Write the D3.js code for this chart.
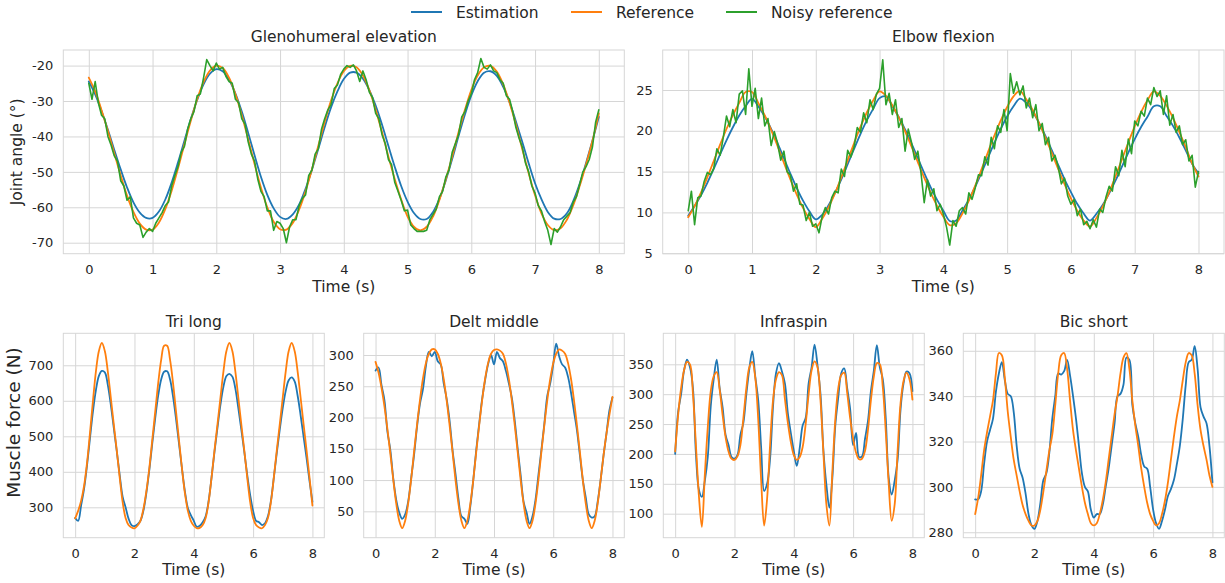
<!DOCTYPE html>
<html>
<head>
<meta charset="utf-8">
<title>Joint angles and muscle forces</title>
<script src="https://cdn.jsdelivr.net/npm/d3@7"></script>
<style>
  body { margin: 0; background: #fff; font-family: "DejaVu Sans", sans-serif; }
</style>
</head>
<body>
<div id="chart"></div>
<script>
var width = 1225;
var height = 583;

// ----- Data -----

// sample times (s)
var time = [0,0.1,0.2,0.3,0.4,0.5,0.6,0.7,0.8,0.9,
  1,1.1,1.2,1.3,1.4,1.5,1.6,1.7,1.8,1.9,
  2,2.1,2.2,2.3,2.4,2.5,2.6,2.7,2.8,2.9,
  3,3.1,3.2,3.3,3.4,3.5,3.6,3.7,3.8,3.9,
  4,4.1,4.2,4.3,4.4,4.5,4.6,4.7,4.8,4.9,
  5,5.1,5.2,5.3,5.4,5.5,5.6,5.7,5.8,5.9,
  6,6.1,6.2,6.3,6.4,6.5,6.6,6.7,6.8,6.9,
  7,7.1,7.2,7.3,7.4,7.5,7.6,7.7,7.8,7.9,
  8];

var timeFine = [0,0.05,0.1,0.15,0.2,0.25,0.3,0.35,0.4,0.45,
  0.5,0.55,0.6,0.65,0.7,0.75,0.8,0.85,0.9,0.95,
  1,1.05,1.1,1.15,1.2,1.25,1.3,1.35,1.4,1.45,
  1.5,1.55,1.6,1.65,1.7,1.75,1.8,1.85,1.9,1.95,
  2,2.05,2.1,2.15,2.2,2.25,2.3,2.35,2.4,2.45,
  2.5,2.55,2.6,2.65,2.7,2.75,2.8,2.85,2.9,2.95,
  3,3.05,3.1,3.15,3.2,3.25,3.3,3.35,3.4,3.45,
  3.5,3.55,3.6,3.65,3.7,3.75,3.8,3.85,3.9,3.95,
  4,4.05,4.1,4.15,4.2,4.25,4.3,4.35,4.4,4.45,
  4.5,4.55,4.6,4.65,4.7,4.75,4.8,4.85,4.9,4.95,
  5,5.05,5.1,5.15,5.2,5.25,5.3,5.35,5.4,5.45,
  5.5,5.55,5.6,5.65,5.7,5.75,5.8,5.85,5.9,5.95,
  6,6.05,6.1,6.15,6.2,6.25,6.3,6.35,6.4,6.45,
  6.5,6.55,6.6,6.65,6.7,6.75,6.8,6.85,6.9,6.95,
  7,7.05,7.1,7.15,7.2,7.25,7.3,7.35,7.4,7.45,
  7.5,7.55,7.6,7.65,7.7,7.75,7.8,7.85,7.9,7.95,
  8];

var seriesNames = ['Estimation', 'Reference', 'Noisy reference'];

// Glenohumeral elevation (deg)
var gleEst = [-24.5,-28.1,-32.8,-38.1,-43.8,-49.3,-54.4,-58.6,-61.5,-63.0,
  -63.0,-61.2,-57.8,-53.0,-47.3,-41.2,-35.1,-29.7,-25.3,-22.3,
  -21.0,-21.6,-24.0,-27.9,-33.0,-39.0,-45.3,-51.4,-56.5,-60.3,
  -62.7,-63.3,-62.0,-59.2,-54.8,-49.4,-43.5,-37.4,-31.8,-27.3,
  -23.8,-22.0,-22.0,-23.7,-26.9,-31.3,-36.7,-42.7,-48.6,-54.0,
  -58.4,-61.6,-63.3,-63.3,-61.3,-57.6,-52.4,-46.4,-39.9,-33.8,
  -28.4,-24.4,-22.0,-21.6,-22.9,-26.0,-30.3,-35.8,-41.6,-47.6,
  -53.2,-57.7,-61.3,-63.2,-63.3,-61.7,-58.2,-53.4,-47.5,-41.2,
  -34.5];
var gleRef = [-23.4,-27.3,-32.6,-38.5,-44.8,-51.0,-56.7,-61.3,-64.6,-66.3,
  -66.3,-64.3,-60.5,-55.3,-49.0,-42.2,-35.6,-29.5,-24.7,-21.4,
  -20.05,-20.7,-23.4,-28.1,-34.0,-40.8,-47.8,-54.4,-60.0,-64.1,
  -66.2,-66.3,-64.4,-60.6,-55.5,-49.3,-42.6,-35.9,-29.9,-25.0,
  -21.6,-20.1,-20.5,-22.8,-26.9,-32.5,-38.8,-45.7,-52.1,-57.8,
  -62.6,-65.5,-66.5,-65.5,-62.6,-57.9,-52.1,-45.7,-38.8,-32.5,
  -26.9,-22.8,-20.5,-20.1,-21.7,-25.3,-30.5,-36.7,-43.6,-50.4,
  -56.6,-61.7,-65.0,-66.45,-65.9,-63.5,-59.4,-54.0,-47.9,-41.3,
  -33.5];
var gleNoisy = [-25.0,-29.5,-24.5,-30.5,-34.0,-35.0,-40.0,-42.5,-45.5,-47.0,
  -52.5,-54.0,-58.0,-57.0,-63.0,-64.5,-65.0,-68.5,-67.0,-66.0,
  -66.8,-64.5,-63.0,-61.5,-59.5,-58.5,-54.0,-51.0,-48.5,-44.5,
  -42.8,-38.0,-35.0,-33.0,-28.5,-28.0,-23.5,-18.3,-20.0,-21.5,
  -19.3,-21.0,-20.5,-23.0,-24.5,-25.0,-29.5,-30.5,-35.0,-36.5,
  -41.5,-45.0,-47.0,-52.0,-55.5,-57.0,-61.0,-61.0,-66.5,-64.0,
  -64.5,-66.0,-70.0,-65.5,-63.5,-63.5,-59.5,-57.5,-56.5,-51.0,
  -49.5,-45.0,-43.5,-38.0,-35.0,-32.5,-31.0,-26.5,-25.5,-22.5,
  -21.0,-20.0,-20.5,-19.8,-21.5,-24.5,-21.5,-24.0,-27.5,-29.0,
  -33.5,-35.0,-39.5,-42.0,-46.5,-48.0,-53.0,-55.5,-58.0,-61.0,
  -60.8,-65.0,-66.0,-66.8,-66.8,-66.8,-66.5,-63.5,-62.0,-60.5,
  -57.0,-55.5,-51.5,-49.5,-44.5,-42.0,-39.5,-34.5,-33.0,-30.0,
  -28.0,-24.0,-22.0,-18.0,-20.5,-21.0,-19.8,-21.5,-22.0,-24.0,
  -25.0,-28.5,-29.5,-33.0,-37.5,-40.5,-43.0,-47.5,-50.0,-54.0,
  -56.0,-59.5,-61.0,-64.0,-66.5,-70.5,-66.0,-67.0,-65.5,-63.5,
  -62.5,-61.5,-58.5,-57.0,-53.5,-50.0,-48.5,-46.5,-43.0,-36.0,
  -32.5];

// Elbow flexion (deg)
var elbEst = [9.6,10.79,12.1,13.63,15.32,17.1,18.83,20.43,21.87,23.04,
  23.9,22.99,21.75,20.23,18.49,16.64,14.78,13.01,11.44,10.13,
  9.15,9.7,10.87,12.37,14.05,15.9,17.78,19.6,21.27,22.69,
  24.0,24.2,23.0,21.71,20.16,18.46,16.64,14.83,13.11,11.56,
  10.21,8.95,9.0,10.24,11.57,13.15,14.9,16.73,18.53,20.24,
  21.76,23.0,23.95,23.44,22.35,20.96,19.37,17.62,15.83,14.06,
  12.49,11.02,9.86,9.0,9.83,10.95,12.34,13.92,15.61,17.32,
  18.98,20.46,21.73,23.0,23.0,21.8,20.6,19.18,17.61,15.95,
  14.8];
var elbRef = [9.4,10.77,12.43,14.31,16.3,18.31,20.22,21.92,23.42,24.75,
  24.75,23.39,21.88,20.1,18.14,16.08,14.08,12.22,10.55,9.19,
  8.2,9.22,10.62,12.33,14.3,16.38,18.48,20.48,22.24,23.72,
  24.83,24.29,23.12,21.65,19.93,18.1,16.16,14.25,12.45,10.82,
  9.48,8.44,8.66,9.88,11.45,13.29,15.3,17.38,19.42,21.27,
  22.92,24.22,24.9,23.85,22.55,20.98,19.17,17.29,15.34,13.45,
  11.73,10.22,9.0,8.28,9.33,10.74,12.47,14.43,16.5,18.57,
  20.55,22.3,23.74,24.83,24.28,23.08,21.59,19.84,17.98,16.01,
  14.4];
var elbNoisy = [10.2,12.6,8.5,11.8,12.0,13.8,14.9,14.6,15.4,17.8,
  17.0,19.2,21.8,20.5,22.6,21.0,24.5,24.9,22.0,27.6,
  23.0,25.2,21.5,24.0,20.6,21.5,18.2,19.9,18.5,16.4,
  17.5,15.0,14.6,12.6,13.5,11.0,10.9,9.0,10.0,8.3,
  8.6,7.5,9.5,10.6,9.8,11.8,12.6,12.4,15.3,14.4,
  17.6,16.8,18.0,20.4,19.8,22.2,21.0,23.8,22.6,24.5,
  25.2,28.7,23.2,24.6,22.0,23.8,20.4,21.5,17.5,20.2,
  18.6,16.5,17.5,14.8,11.2,14.0,12.0,12.9,10.2,11.0,
  9.8,8.2,6.0,9.0,8.3,10.2,10.6,9.8,12.4,11.6,
  13.0,14.6,14.5,16.8,15.8,19.2,17.8,20.6,19.8,22.6,
  20.0,27.0,24.6,26.0,24.4,25.5,22.8,24.0,21.6,23.2,
  20.0,20.9,18.3,19.2,16.3,17.0,15.6,13.5,14.2,12.0,
  11.0,11.6,9.6,10.4,8.5,8.9,8.0,9.1,8.2,10.4,
  10.0,11.9,13.2,12.6,15.6,14.5,17.6,15.6,19.0,17.2,
  21.2,20.6,22.4,21.8,24.0,23.2,25.3,24.2,24.9,22.0,
  24.3,20.7,22.0,19.8,20.6,18.3,18.9,16.3,17.0,13.1,
  15.0];

// Tri long (N)
var triEst = [270,262,305,352,418,495,570,630,670,684,
  680,645,590,525,460,392,330,300,268,250,
  247,252,262,290,340,405,480,552,615,660,
  682,683,660,612,550,480,410,345,298,278,
  262,245,248,258,275,318,385,458,525,590,
  640,670,676,668,635,580,520,458,392,335,
  290,262,258,250,255,275,318,385,455,520,
  580,628,658,666,655,615,560,500,440,375,
  315];
var triRef = [269,290,318,360,425,510,600,683,740,763,
  740,683,610,535,462,385,315,270,250,243,
  241,248,262,295,345,410,490,570,650,715,
  755,755,715,650,570,490,410,340,290,262,
  248,241,242,250,270,315,385,462,535,610,
  683,740,763,740,683,610,535,462,385,315,
  270,250,243,241,250,270,315,385,462,535,
  610,683,740,763,740,683,610,535,462,385,
  305];

// Delt middle (N)
var delEst = [275,280,252,228,178,148,102,68,48,38,
  45,65,102,140,185,222,245,282,305,298,
  305,290,285,255,230,195,148,110,70,42,
  38,30,58,100,148,190,230,260,285,300,
  285,305,295,290,275,255,232,195,150,108,
  65,48,30,42,68,108,148,190,235,255,
  285,318,298,285,280,265,240,210,180,140,
  100,72,45,40,42,65,100,140,175,212,
  232];
var delRef = [289,272,248,218,182,142,100,62,35,23,
  35,62,100,145,188,228,262,287,302,309,
  309,302,287,262,228,188,145,100,62,35,
  23,35,62,100,145,188,228,262,287,302,
  308,309,307,302,287,262,228,188,145,100,
  62,35,23,35,62,100,145,188,228,262,
  287,302,309,307,302,287,262,228,188,145,
  100,62,35,23,35,62,100,140,175,205,
  233];

// Infraspin (N)
var infEst = [200,270,300,340,358,345,310,200,140,128,
  155,195,280,325,358,310,278,232,215,195,
  192,198,232,252,300,342,372,330,290,210,
  138,150,192,280,335,352,338,318,268,235,
  205,180,210,248,260,318,345,383,348,300,
  205,148,110,160,248,295,335,343,310,275,
  215,235,195,196,225,255,305,340,382,345,
  325,260,160,132,155,190,275,318,338,335,
  305];
var infRef = [204,265,310,340,354,350,300,215,130,78,
  165,245,305,330,337,308,265,228,204,192,
  190,196,215,260,310,345,354,328,258,155,
  80,125,215,290,325,337,332,292,252,220,
  198,190,195,212,250,300,340,355,345,290,
  200,115,80,170,258,310,332,336,302,260,
  226,202,191,192,205,240,290,330,352,350,
  312,238,150,88,115,205,285,322,336,325,
  291];

// Bic short (N)
var bicEst = [294.5,294.5,298,310,320,325,330,342,350,355,
  347,341,340,333,318,308,304,297,288,283,
  281.5,285,293,303,306,315,330,340,350,349.5,
  351,356,349,340,330,318,306,300,298,290,
  286.5,288,288,292,300,308,318,328,340,341,
  345,357,356,336,328,322,314,309,308,300,
  290,284,281.5,285,290,296,299,303,310,318,
  330,345,355,356,362,352,335,331,328,318,
  302];
var bicRef = [288,295,305,316,324,331,338,350,359,358,
  348,333,322,312,305,298,292,288,285,283,
  283,285,290,298,307,316,323,336,350,358,
  359,352,338,325,316,308,300,293,288,284,
  283,284,288,294,302,312,322,332,340,350,
  357,359,352,338,327,318,308,300,293,288,
  285,283,284,288,294,302,312,322,331,338,
  347,355,359,358,350,336,325,318,312,305,
  300];

var xTicksTop = [0,1,2,3,4,5,6,7,8];
var xTicksBottom = [0,2,4,6,8];

// ----- Style -----

var fontFamily = '"DejaVu Sans", sans-serif';
var ink = '#262626';
var gridColor = '#d6d6d6';
var colors = ['#1f77b4', '#ff7f0e', '#2ca02c'];
var lineW = 1.8;

var panels = [
  { title: 'Glenohumeral elevation', box: [63.3, 50, 561, 203.7], yDomain: [-73.1, -15.6],
    yTicks: [-70,-60,-50,-40,-30,-20], xTicks: xTicksTop, yLabel: 'Joint angle (°)', yLabelSize: 15.5, yLabelX: 21.5,
    series: [[time, gleEst], [time, gleRef], [timeFine, gleNoisy]], titleGap: 8.3, xLabelGap: 38.5 },
  { title: 'Elbow flexion', box: [662.7, 50, 561.3, 203.7], yDomain: [4.94, 29.9],
    yTicks: [5,10,15,20,25], xTicks: xTicksTop,
    series: [[time, elbEst], [time, elbRef], [timeFine, elbNoisy]], titleGap: 8.3, xLabelGap: 38.5 },
  { title: 'Tri long', box: [63.3, 333.3, 261, 204.4], yDomain: [214.4, 790.1],
    yTicks: [300,400,500,600,700], xTicks: xTicksBottom, yLabel: 'Muscle force (N)', yLabelSize: 18.5, yLabelX: 20, yLabelShift: -13,
    series: [[time, triEst], [time, triRef]], titleGap: 6.8, xLabelGap: 37.5 },
  { title: 'Delt middle', box: [363.7, 333.3, 260.6, 204.4], yDomain: [7.8, 334.7],
    yTicks: [50,100,150,200,250,300], xTicks: xTicksBottom,
    series: [[time, delEst], [time, delRef]], titleGap: 6.8, xLabelGap: 37.5 },
  { title: 'Infraspin', box: [663.3, 333.3, 261, 204.4], yDomain: [59.8, 401.9],
    yTicks: [100,150,200,250,300,350], xTicks: xTicksBottom,
    series: [[time, infEst], [time, infRef]], titleGap: 6.8, xLabelGap: 37.5 },
  { title: 'Bic short', box: [963.3, 333.3, 261, 204.4], yDomain: [277.6, 367.7],
    yTicks: [280,300,320,340,360], xTicks: xTicksBottom,
    series: [[time, bicEst], [time, bicRef]], titleGap: 6.8, xLabelGap: 37.5 }
];

// ----- Main -----

var svg = d3.select('#chart')
  .append('svg')
  .attr('width', width)
  .attr('height', height)
  .style('background', '#fff');

function styleAxis(a) {
  a.select('.domain').remove();
  a.attr('font-family', fontFamily).attr('font-size', 13);
  a.selectAll('line').attr('stroke', gridColor).attr('stroke-width', 1);
  a.selectAll('text').attr('fill', ink);
}

function drawPanel(p) {
  var w = p.box[2], h = p.box[3];
  var g = svg.append('g').attr('transform', 'translate(' + p.box[0] + ',' + p.box[1] + ')');

  var x = d3.scaleLinear().domain([-0.4, 8.4]).range([0, w]);
  var y = d3.scaleLinear().domain(p.yDomain).range([h, 0]);

  var gx = g.append('g')
    .attr('transform', 'translate(0,' + h + ')')
    .call(d3.axisBottom(x).tickValues(p.xTicks).tickSize(-h).tickPadding(10.8)
      .tickFormat(function(d) { return String(d); }));
  styleAxis(gx);

  var gy = g.append('g')
    .call(d3.axisLeft(y).tickValues(p.yTicks).tickSize(-w).tickPadding(10)
      .tickFormat(function(d) { return String(d); }));
  styleAxis(gy);

  g.append('rect')
    .attr('width', w).attr('height', h)
    .attr('fill', 'none')
    .attr('stroke', gridColor).attr('stroke-width', 1);

  p.series.forEach(function(s, i) {
    var ts = s[0], vals = s[1];
    var noisy = (ts === timeFine);
    var line = d3.line()
      .x(function(d, k) { return x(ts[k]); })
      .y(function(d) { return y(d); })
      .curve(noisy ? d3.curveLinear : d3.curveCatmullRom.alpha(0.5));
    g.append('path')
      .datum(vals)
      .attr('d', line)
      .attr('fill', 'none')
      .attr('stroke', colors[i])
      .attr('stroke-width', noisy ? 1.6 : lineW)
      .attr('stroke-linejoin', 'round')
      .attr('stroke-linecap', 'round');
  });

  g.append('text')
    .attr('x', w / 2).attr('y', -p.titleGap)
    .attr('text-anchor', 'middle')
    .attr('font-family', fontFamily).attr('font-size', 15.5)
    .attr('fill', ink)
    .text(p.title);

  g.append('text')
    .attr('x', w / 2).attr('y', h + p.xLabelGap)
    .attr('text-anchor', 'middle')
    .attr('font-family', fontFamily).attr('font-size', 15.5)
    .attr('fill', ink)
    .text('Time (s)');

  if (p.yLabel) {
    var cy = p.box[1] + h / 2 + (p.yLabelShift || 0);
    svg.append('text')
      .attr('transform', 'translate(' + p.yLabelX + ',' + cy + ') rotate(-90)')
      .attr('text-anchor', 'middle')
      .attr('font-family', fontFamily).attr('font-size', p.yLabelSize)
      .attr('fill', ink)
      .text(p.yLabel);
  }
}

panels.forEach(drawPanel);

// legend
var legendItems = [
  { name: seriesNames[0], x: 411 },
  { name: seriesNames[1], x: 571 },
  { name: seriesNames[2], x: 726 }
];
legendItems.forEach(function(it, i) {
  svg.append('line')
    .attr('x1', it.x).attr('x2', it.x + 31)
    .attr('y1', 12).attr('y2', 12)
    .attr('stroke', colors[i]).attr('stroke-width', 2);
  svg.append('text')
    .attr('x', it.x + 45).attr('y', 17.5)
    .attr('font-family', fontFamily).attr('font-size', 15.5)
    .attr('fill', ink)
    .text(it.name);
});
</script>
</body>
</html>
